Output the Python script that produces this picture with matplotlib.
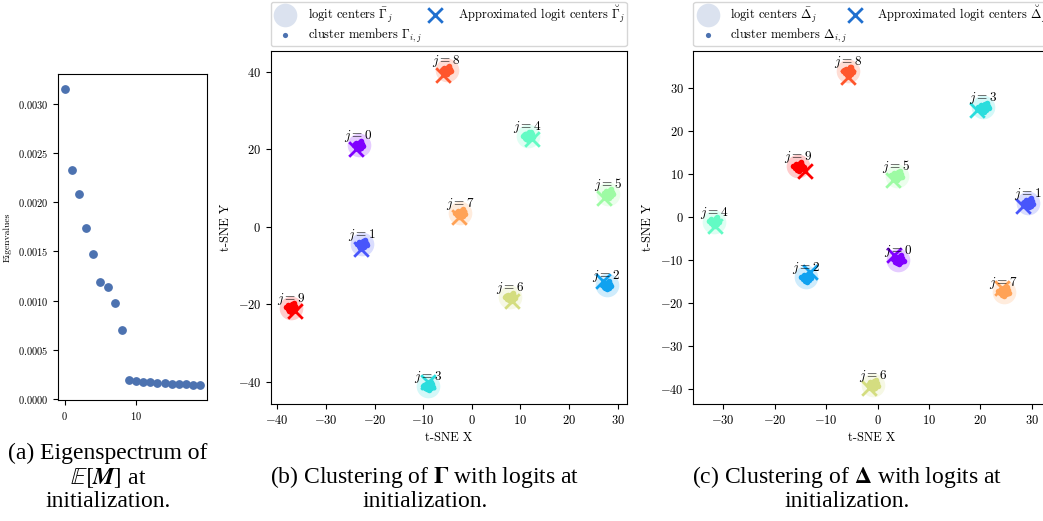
import numpy as np
import matplotlib
matplotlib.use('Agg')
import matplotlib.pyplot as plt

plt.rcParams['font.family'] = 'serif'
plt.rcParams['font.serif'] = ['cmr10']
plt.rcParams['mathtext.fontset'] = 'cm'
plt.rcParams['axes.formatter.use_mathtext'] = True

# eigenspectrum (panel a)
eig_idx = list(range(20))
eigenvalues = [0.00315, 0.00233, 0.00208, 0.00174, 0.00147, 0.00119, 0.00114,
               0.00098, 0.00070, 0.000195, 0.000180, 0.000175, 0.000170,
               0.000165, 0.000160, 0.000155, 0.000150, 0.000148, 0.000145,
               0.000140]

# panel b: logit centers / approximated centers for Gamma (t-SNE coords)
gamma_cx = [-23.3, -22.6, 27.7, -8.95, 11.5, 28.1, 7.9, -2.4, -5.2, -37.2]
gamma_cy = [21.0, -4.6, -15.1, -41.1, 23.4, 8.5, -18.2, 3.4, 40.4, -20.9]
gamma_ax = [-23.9, -22.8, 26.9, -9.1, 12.3, 27.2, 8.2, -2.6, -5.9, -36.4]
gamma_ay = [20.1, -5.7, -14.1, -40.0, 22.7, 7.5, -19.3, 2.5, 39.2, -21.8]

# panel c: same for Delta
delta_cx = [4.05, 29.3, -13.9, 20.6, -31.8, 3.7, -0.93, 24.5, -5.68, -15.4]
delta_cy = [-9.9, 3.3, -14.0, 25.5, -1.0, 9.6, -39.0, -17.3, 33.9, 11.8]
delta_ax = [3.2, 28.2, -13.1, 19.3, -31.6, 3.1, -1.6, 24.2, -5.8, -14.1]
delta_ay = [-8.8, 2.7, -12.7, 25.0, -1.95, 8.7, -39.8, -16.5, 32.7, 10.8]

# spread of cluster members around their center (offsets)
member_dx = [0.0, 0.8, -0.8, 0.5, -0.5, 0.3, -0.3, 1.0, -1.0, 0.1, 0.6, -0.6]
member_dy = [0.0, 0.4, 0.2, -0.6, 0.6, 0.9, -0.8, -0.2, 0.1, -1.0, 1.1, -0.4]

fig = plt.figure(figsize=(10.43, 5.21), dpi=100)

# (a)
ax0 = fig.add_axes([0.0556, 0.2322, 0.1429, 0.6257])
ax0.scatter(eig_idx, eigenvalues, s=28, color='#4C72B0')
ax0.set_xticks([0, 10])
ax0.set_yticks(np.arange(0, 0.0031, 0.0005))
ax0.set_ylabel('Eigenvalues', fontsize=7)
ax0.tick_params(labelsize=7.5)


def cluster_panel(ax, cx, cy, apx, apy, sym, xticks, yticks, xlim, ylim):
    colors = plt.cm.rainbow(np.linspace(0, 1, 10))
    for j in range(10):
        ax.scatter(cx[j], cy[j], s=290, color=colors[j], alpha=0.2, linewidths=0)
        ax.scatter(np.array(member_dx) + cx[j], np.array(member_dy) + cy[j],
                   s=16, color=colors[j], linewidths=0)
        ax.scatter(apx[j], apy[j], s=110, marker='x', color=colors[j], linewidths=2)
        ax.annotate(r'$j=%d$' % j, (cx[j], cy[j]), xytext=(0, 6.5),
                    textcoords='offset points', ha='center', va='center', fontsize=9.5)
    h1 = ax.scatter([], [], s=290, color='#4C72B0', alpha=0.2, linewidths=0,
                    label=r'logit centers $\bar{%s}_j$' % sym)
    h2 = ax.scatter([], [], s=14, color='#4C72B0', linewidths=0,
                    label=r'cluster members $%s_{i,j}$' % sym)
    h3 = ax.scatter([], [], s=110, marker='x', color='#1f6fcf', linewidths=2,
                    label=r'Approximated logit centers $\breve{%s}_j$' % sym)
    ax.legend(handles=[h1, h2, h3], ncol=2, loc='lower left', mode='expand',
              bbox_to_anchor=(0, 1.012, 1, 0.1), fontsize=9, borderaxespad=0,
              labelspacing=0.15, borderpad=0.15)
    ax.set_xticks(xticks)
    ax.set_yticks(yticks)
    ax.set_xlim(xlim)
    ax.set_ylim(ylim)
    ax.set_xlabel('t-SNE X', fontsize=9)
    ax.set_ylabel('t-SNE Y', fontsize=9)
    ax.tick_params(labelsize=9)


ax1 = fig.add_axes([0.2598, 0.2246, 0.3413, 0.6781])
cluster_panel(ax1, gamma_cx, gamma_cy, gamma_ax, gamma_ay, r'\Gamma',
              range(-40, 31, 10), range(-40, 41, 20), (-41.3, 31.9), (-45.75, 45.4))

ax2 = fig.add_axes([0.6647, 0.2246, 0.3413, 0.6781])
cluster_panel(ax2, delta_cx, delta_cy, delta_ax, delta_ay, r'\Delta',
              range(-30, 31, 10), range(-40, 31, 10), (-35.84, 33.4), (-43.4, 38.7))

cap = dict(ha='center', va='bottom', fontsize=17, family='Liberation Serif',
           math_fontfamily='stix', linespacing=1.1)
fig.text(108 / 1043, 0.017, '(a) Eigenspectrum of\n' + r'$\mathbb{E}[\mathbfit{M}]$ at' + '\ninitialization.', **cap)
fig.text(425 / 1043, 0.017, r'(b) Clustering of $\mathbf{\Gamma}$ with logits at' + '\ninitialization.', **cap)
fig.text(847 / 1043, 0.017, r'(c) Clustering of $\mathbf{\Delta}$ with logits at' + '\ninitialization.', **cap)

fig.savefig('out.png', dpi=100)
